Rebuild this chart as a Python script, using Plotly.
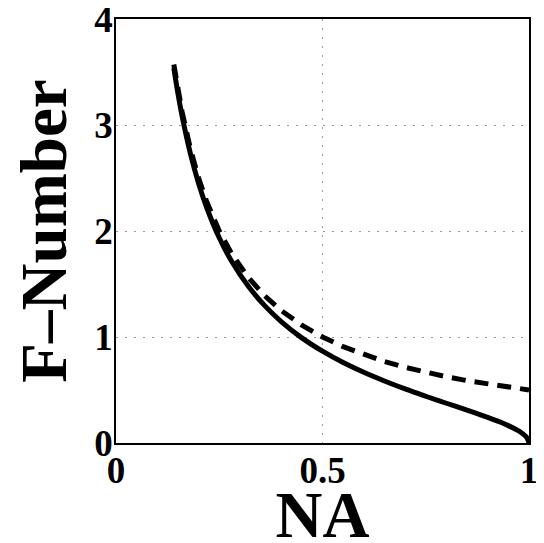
import plotly.graph_objects as go

na = [0.14, 0.15, 0.16, 0.18, 0.20, 0.22, 0.25, 0.28, 0.32, 0.36, 0.40, 0.45, 0.50,
      0.55, 0.60, 0.65, 0.70, 0.75, 0.80, 0.85, 0.90, 0.93, 0.95, 0.97, 0.98, 0.99, 0.995, 1.0]
f_exact = [3.536, 3.296, 3.085, 2.732, 2.449, 2.217, 1.936, 1.714, 1.480, 1.296, 1.146, 0.992, 0.866,
           0.759, 0.667, 0.585, 0.510, 0.441, 0.375, 0.310, 0.242, 0.198, 0.164, 0.125, 0.102, 0.071, 0.050, 0.0]
f_paraxial = [3.571, 3.333, 3.125, 2.778, 2.500, 2.273, 2.000, 1.786, 1.563, 1.389, 1.250, 1.111, 1.000,
              0.909, 0.833, 0.769, 0.714, 0.667, 0.625, 0.588, 0.556, 0.538, 0.526, 0.515, 0.510, 0.505, 0.503, 0.500]

x_ticks = [0, 0.5, 1]
x_labels = ["0", "0.5", "1"]
y_ticks = [0, 1, 2, 3, 4]
y_labels = ["0", "1", "2", "3", "4"]

font = "Liberation Serif"

fig = go.Figure()
fig.add_trace(go.Scatter(x=na, y=f_paraxial, mode="lines",
                         line=dict(color="black", width=5, dash="14px,9px"), showlegend=False))
fig.add_trace(go.Scatter(x=na, y=f_exact, mode="lines",
                         line=dict(color="black", width=5, shape="spline"), showlegend=False))

axis_common = dict(showline=True, linecolor="black", linewidth=1.5, mirror=True,
                   showgrid=True, gridcolor="#999999", griddash="2px,7px", gridwidth=1,
                   zeroline=False, ticks="", automargin=False, ticklabeloverflow="allow",
                   tickfont=dict(family=font, size=37, color="black"))

fig.update_xaxes(range=[0, 1], tickvals=x_ticks, ticktext=x_labels, ticklabelstandoff=-6,
                 title=dict(text="<b>NA</b>", font=dict(family=font, size=65, color="black"), standoff=12),
                 **axis_common)
fig.update_yaxes(range=[0, 4], tickvals=y_ticks, ticktext=y_labels, ticklabelstandoff=-6,
                 title=dict(text="<b>F–Number</b>", font=dict(family=font, size=65, color="black"), standoff=7),
                 **axis_common)
fig.update_layout(width=544, height=543, margin=dict(l=108, r=23, t=11, b=108),
                  plot_bgcolor="white", paper_bgcolor="white",
                  font=dict(family=font, color="black", weight="bold"))
fig.write_html("out.html")
